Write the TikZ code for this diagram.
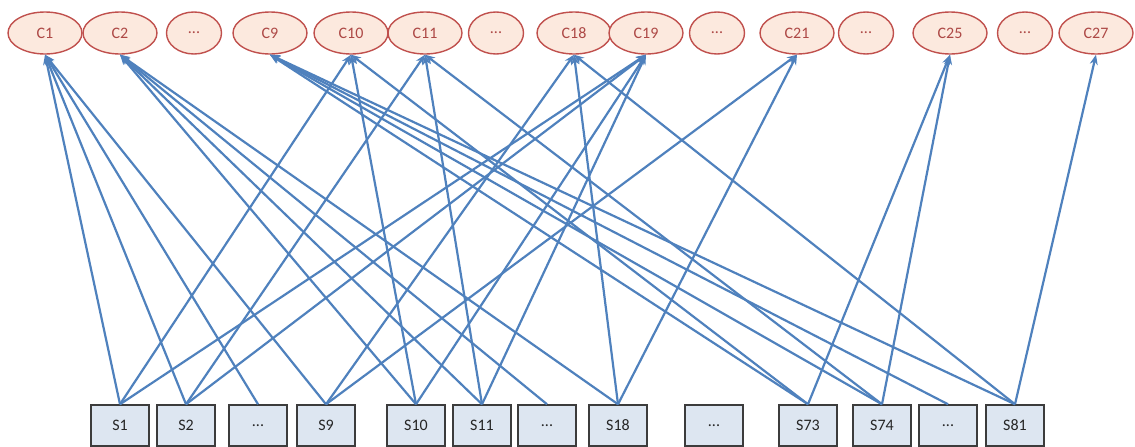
\documentclass[tikz,border=0pt]{standalone}
\usepackage{fontspec}
\setmainfont{Carlito}
\usetikzlibrary{positioning,shapes.geometric,arrows.meta}
\definecolor{linkblue}{RGB}{79,129,189}
\definecolor{cred}{RGB}{192,80,77}
\definecolor{cfill}{RGB}{252,233,222}
\definecolor{sfill}{RGB}{221,230,241}
\definecolor{sline}{RGB}{60,60,60}

\begin{document}
\begin{tikzpicture}[x=1pt, y=-1pt, on grid,
  cnode/.style={ellipse, draw=cred, line width=1.4pt, fill=cfill, text=cred!90!black,
    minimum width=74pt, minimum height=42pt, inner sep=0pt, font=\fontsize{16}{18}\selectfont},
  cdots/.style={cnode, minimum width=55pt},
  snode/.style={rectangle, draw=sline, line width=1.5pt, fill=sfill, text=black!85,
    minimum width=58pt, minimum height=41pt, inner sep=0pt, font=\fontsize{16}{18}\selectfont},
  link/.style={color=linkblue, line width=2.2pt, -{Stealth[length=10pt,width=8pt]}}]
\useasboundingbox (0,0) rectangle (1135,447);

\node[cnode] (c1) at (45,33) {C1};
\node[cnode, right=75pt of c1] (c2) {C2};
\node[cdots, right=74pt of c2] (c3) {...};
\node[cnode, right=76pt of c3] (c9) {C9};
\node[cnode, right=81pt of c9] (c10) {C10};
\node[cnode, right=74pt of c10] (c11) {C11};
\node[cdots, right=71pt of c11] (c12) {...};
\node[cnode, right=78pt of c12] (c18) {C18};
\node[cnode, right=72pt of c18] (c19) {C19};
\node[cdots, right=71pt of c19] (c20) {...};
\node[cnode, right=80pt of c20] (c21) {C21};
\node[cdots, right=69pt of c21] (c22) {...};
\node[cnode, right=84pt of c22] (c25) {C25};
\node[cdots, right=75pt of c25] (c26) {...};
\node[cnode, right=71pt of c26] (c27) {C27};

\node[snode] (s1) at (120,425.5) {S1};
\node[snode, right=66pt of s1] (s2) {S2};
\node[snode, right=72pt of s2] (s3) {...};
\node[snode, right=68pt of s3] (s9) {S9};
\node[snode, right=90pt of s9] (s10) {S10};
\node[snode, right=66pt of s10] (s11) {S11};
\node[snode, right=65pt of s11] (s12) {...};
\node[snode, right=71pt of s12] (s18) {S18};
\node[snode, right=96pt of s18] (s19) {...};
\node[snode, right=94pt of s19] (s73) {S73};
\node[snode, right=74pt of s73] (s74) {S74};
\node[snode, right=66pt of s74] (s75) {...};
\node[snode, right=67pt of s75] (s81) {S81};

\path[link]
  (s1.north) edge (c1.south) edge (c10.south) edge (c19.south)
  (s2.north) edge (c1.south) edge (c11.south) edge (c19.south)
  (s3.north) edge (c1.south)
  (s9.north) edge (c1.south) edge (c18.south) edge (c21.south)
  (s10.north) edge (c2.south) edge (c10.south) edge (c19.south)
  (s11.north) edge (c2.south) edge (c11.south) edge (c19.south)
  (s12.north) edge (c2.south)
  (s18.north) edge (c2.south) edge (c18.south) edge (c21.south)
  (s73.north) edge (c9.south) edge (c10.south) edge (c25.south)
  (s74.north) edge (c9.south) edge (c11.south) edge (c25.south)
  (s75.north) edge (c9.south)
  (s81.north) edge (c9.south) edge (c18.south) edge (c27.south);
\end{tikzpicture}
\end{document}
